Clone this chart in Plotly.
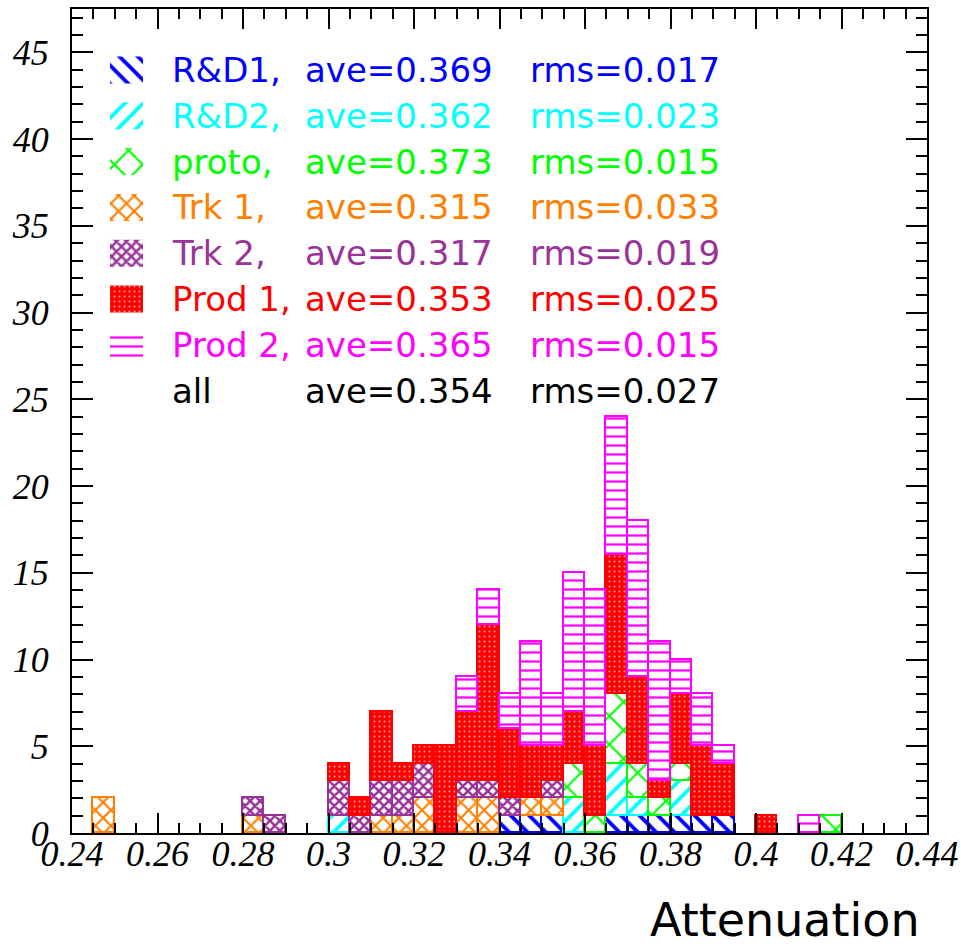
import plotly.graph_objects as go

# ---------------- data ----------------
BIN_START = 0.24
BIN_WIDTH = 0.005
N_BINS = 40

#                 0 1 2 3 4 5 6 7 8 9 10 1 2 3 4 5 6 7 8 9 20 1 2 3 4 5 6 7 8 9 30 1 2 3 4 5 6 7 8 9
rd1_counts    = [0,0,0,0,0,0,0,0,0,0, 0,0,0,0,0,0,0,0,0,0, 1,1,1,0,0,1,1,1,1,1, 1,0,0,0,0,0,0,0,0,0]
rd2_counts    = [0,0,0,0,0,0,0,0,0,0, 0,0,1,0,0,0,0,0,0,0, 0,0,0,2,0,3,1,0,2,0, 0,0,0,0,0,0,0,0,0,0]
proto_counts  = [0,0,0,0,0,0,0,0,0,0, 0,0,0,0,0,0,0,0,0,0, 0,0,0,2,1,4,2,1,1,0, 0,0,0,0,0,1,0,0,0,0]
trk1_counts   = [0,2,0,0,0,0,0,0,1,0, 0,0,0,0,1,1,2,0,2,2, 0,1,1,0,0,0,0,0,0,0, 0,0,0,0,0,0,0,0,0,0]
trk2_counts   = [0,0,0,0,0,0,0,0,1,1, 0,0,2,1,2,2,2,0,1,1, 1,0,1,0,0,0,0,0,0,0, 0,0,0,0,0,0,0,0,0,0]
prod1_counts  = [0,0,0,0,0,0,0,0,0,0, 0,0,1,1,4,1,1,5,4,9, 4,3,2,3,4,8,5,1,4,4, 3,0,1,0,0,0,0,0,0,0]
prod2_counts  = [0,0,0,0,0,0,0,0,0,0, 0,0,0,0,0,0,0,0,2,2, 2,6,3,8,9,8,9,8,2,3, 1,0,0,0,1,0,0,0,0,0]

series_names  = ["R&amp;D1,", "R&amp;D2,", "proto,", "Trk 1,", "Trk 2,", "Prod 1,", "Prod 2,", "all"]
series_ave    = ["ave=0.369", "ave=0.362", "ave=0.373", "ave=0.315", "ave=0.317", "ave=0.353", "ave=0.365", "ave=0.354"]
series_rms    = ["rms=0.017", "rms=0.023", "rms=0.015", "rms=0.033", "rms=0.019", "rms=0.025", "rms=0.015", "rms=0.027"]
series_colors = ["#0000ff", "#00ffff", "#00ff00", "#ff8000", "#993399", "#ff0000", "#ff00ff", "#000000"]

x_title = "Attenuation"

# ---------------- styles ----------------
patterns = [
    dict(shape="\\", size=13, solidity=0.3, fgcolor=series_colors[0], bgcolor="white", fillmode="replace"),
    dict(shape="/", size=13, solidity=0.3, fgcolor=series_colors[1], bgcolor="white", fillmode="replace"),
    dict(shape="x", size=20, solidity=0.2, fgcolor=series_colors[2], bgcolor="white", fillmode="replace"),
    dict(shape="x", size=11, solidity=0.35, fgcolor=series_colors[3], bgcolor="white", fillmode="replace"),
    dict(shape="x", size=7, solidity=0.6, fgcolor=series_colors[4], bgcolor="white", fillmode="replace"),
    dict(shape=".", size=5, solidity=0.12, fgcolor="#ffa8a8", bgcolor=series_colors[5], fillmode="replace"),
    dict(shape="-", size=9, solidity=0.25, fgcolor=series_colors[6], bgcolor="white", fillmode="replace"),
]

all_counts = [rd1_counts, rd2_counts, proto_counts, trk1_counts, trk2_counts, prod1_counts, prod2_counts]
centers = [BIN_START + BIN_WIDTH * (i + 0.5) for i in range(N_BINS)]

fig = go.Figure()
for k, counts in enumerate(all_counts):
    fig.add_trace(go.Bar(
        x=centers,
        y=[c if c > 0 else None for c in counts],
        width=BIN_WIDTH,
        marker=dict(color=series_colors[k], pattern=patterns[k],
                    line=dict(color=series_colors[k], width=1.8)),
        showlegend=False,
        hoverinfo="skip",
    ))

# ---------------- legend (manual, ROOT style) ----------------
W, H = 961, 946
L, R, T, B = 72, 34, 9, 113
PW, PH = W - L - R, H - T - B


def px_to_paper_x(px):
    return (px - L) / PW


def px_to_paper_y(py):
    return (H - B - py) / PH


row_y0, row_dy = 70, 45.8
sw_x0, sw_x1, sw_h = 110, 143, 27
for k in range(len(series_names)):
    yc = row_y0 + row_dy * k
    if k < len(patterns):
        xa, xb = px_to_paper_x(sw_x0), px_to_paper_x(sw_x1)
        ya, yb = px_to_paper_y(yc + sw_h / 2), px_to_paper_y(yc - sw_h / 2)
        fig.add_trace(go.Scatter(
            x=[xa, xb, xb, xa, xa], y=[ya, ya, yb, yb, ya],
            xaxis="x2", yaxis="y2", mode="lines", fill="toself",
            line=dict(width=0, color=series_colors[k]),
            fillcolor=series_colors[k], fillpattern=patterns[k],
            showlegend=False, hoverinfo="skip",
        ))
    for txt, xpx in ((series_names[k], 170), (series_ave[k], 303), (series_rms[k], 528)):
        fig.add_annotation(
            x=px_to_paper_x(xpx), y=px_to_paper_y(yc), xref="paper", yref="paper",
            text=txt, showarrow=False, xanchor="left", yanchor="middle",
            font=dict(family="DejaVu Sans", size=34, color=series_colors[k]),
        )

fig.add_annotation(
    x=px_to_paper_x(922), y=px_to_paper_y(920), xref="paper", yref="paper",
    text=x_title, showarrow=False, xanchor="right", yanchor="middle",
    font=dict(family="DejaVu Sans", size=46, color="black"),
)

tickfont = dict(family="Liberation Serif", size=36, color="black", style="italic")

fig.update_layout(
    template="none",
    width=W, height=H,
    margin=dict(l=L, r=R, t=T, b=B, pad=0),
    paper_bgcolor="white", plot_bgcolor="white",
    barmode="stack", bargap=0,
    showlegend=False,
    xaxis=dict(
        range=[0.24, 0.44], tick0=0.24, dtick=0.02, tickformat="~g",
        ticks="inside", ticklen=20, tickwidth=2, tickcolor="black",
        showline=True, linewidth=2, linecolor="black", mirror="ticks",
        showgrid=False, zeroline=False, automargin=False,
        tickfont=tickfont, ticklabelstandoff=-12,
        minor=dict(dtick=0.005, tick0=0.24, ticks="inside", ticklen=10,
                   tickwidth=2, tickcolor="black", showgrid=False),
    ),
    yaxis=dict(
        range=[0, 47.5], tick0=0, dtick=5,
        ticks="inside", ticklen=21, tickwidth=2, tickcolor="black",
        showline=True, linewidth=2, linecolor="black", mirror="ticks",
        showgrid=False, zeroline=False, automargin=False,
        tickfont=tickfont, ticklabelstandoff=14,
        minor=dict(dtick=1, tick0=0, ticks="inside", ticklen=11,
                   tickwidth=2, tickcolor="black", showgrid=False),
    ),
    xaxis2=dict(range=[0, 1], overlaying="x", anchor="y2", visible=False, fixedrange=True),
    yaxis2=dict(range=[0, 1], overlaying="y", anchor="x2", visible=False, fixedrange=True),
)

fig.write_html("out.html")
